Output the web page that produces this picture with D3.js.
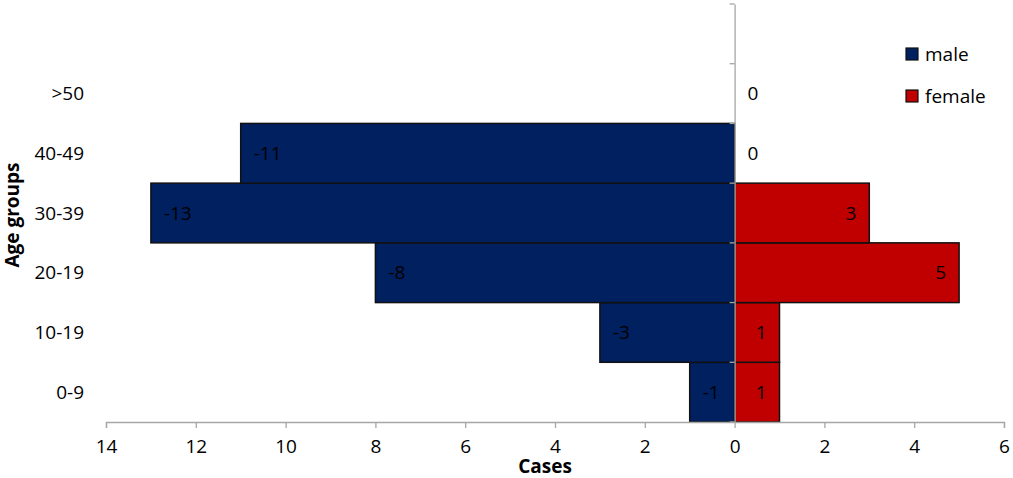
<!DOCTYPE html>
<html>
<head>
<meta charset="utf-8">
<script src="https://cdn.jsdelivr.net/npm/d3@7"></script>
<style>
  body { margin: 0; background: #fff; }
  svg text { font-family: "Open Sans", sans-serif; font-size: 19px; fill: #000; }
  .axis path, .axis line { stroke: #a6a6a6; stroke-width: 1.3; }
</style>
</head>
<body>
<div id="chart"></div>
<script>
// age groups from bottom to top, the top slot stays empty
const ageGroups = ['0-9', '10-19', '20-19', '30-39', '40-49', '>50'];
const maleCases = [-1, -3, -8, -13, -11, 0];
const femaleCases = [1, 1, 5, 3, 0, 0];
const xTicks = [-14, -12, -10, -8, -6, -4, -2, 0, 2, 4, 6];

const W = 1013, H = 478;
const margin = {t: 4, r: 9, b: 56, l: 106};

const svg = d3.select('#chart').append('svg')
  .attr('width', W)
  .attr('height', H);

const x = d3.scaleLinear().domain([-14, 6]).range([margin.l, W - margin.r]);
const y = d3.scaleBand()
  .domain(ageGroups.concat(['']))
  .range([H - margin.b, margin.t])
  .padding(0);

const rows = ageGroups.map((g, i) => ({group: g, male: maleCases[i], female: femaleCases[i]}));

// bars
const bars = svg.append('g');
bars.selectAll('rect.male')
  .data(rows.filter(d => d.male !== 0))
  .join('rect')
  .attr('class', 'male')
  .attr('x', d => x(d.male))
  .attr('y', d => y(d.group))
  .attr('width', d => x(0) - x(d.male))
  .attr('height', y.bandwidth())
  .attr('fill', '#002060')
  .attr('stroke', '#111')
  .attr('stroke-width', 1.5);

bars.selectAll('rect.female')
  .data(rows.filter(d => d.female !== 0))
  .join('rect')
  .attr('class', 'female')
  .attr('x', x(0))
  .attr('y', d => y(d.group))
  .attr('width', d => x(d.female) - x(0))
  .attr('height', y.bandwidth())
  .attr('fill', '#c00000')
  .attr('stroke', '#111')
  .attr('stroke-width', 1.5);

// axes
const xAxis = svg.append('g')
  .attr('class', 'axis')
  .attr('transform', `translate(0, ${H - margin.b})`)
  .call(d3.axisBottom(x).tickValues(xTicks).tickSize(6).tickSizeOuter(6).tickFormat(d => Math.abs(d)));
xAxis.selectAll('text').attr('dy', 22).style('font-size', '19px');

const yAxis = svg.append('g')
  .attr('class', 'axis')
  .attr('transform', `translate(${x(0)}, 0)`)
  .call(d3.axisLeft(y).tickSize(0).tickSizeOuter(0).tickFormat(''));
// ticks on the category boundaries
yAxis.selectAll('line.bound')
  .data(d3.range(y.domain().length + 1))
  .join('line')
  .attr('class', 'bound')
  .attr('x1', -5).attr('x2', 0)
  .attr('y1', i => y.range()[0] - i * y.step())
  .attr('y2', i => y.range()[0] - i * y.step());

// category labels
svg.append('g').selectAll('text')
  .data(ageGroups)
  .join('text')
  .attr('x', 84)
  .attr('y', d => y(d) + y.bandwidth() / 2)
  .attr('dy', '0.35em')
  .attr('text-anchor', 'end')
  .text(d => d);

// value labels
const labels = svg.append('g');
labels.selectAll('text.ml')
  .data(rows.filter(d => d.male !== 0))
  .join('text')
  .attr('class', 'ml')
  .attr('x', d => x(d.male) + 13)
  .attr('y', d => y(d.group) + y.bandwidth() / 2)
  .attr('dy', '0.35em')
  .text(d => d.male);

labels.selectAll('text.fl')
  .data(rows)
  .join('text')
  .attr('class', 'fl')
  .attr('x', d => d.female === 0 ? x(0) + 13 : x(d.female) - 13)
  .attr('y', d => y(d.group) + y.bandwidth() / 2)
  .attr('dy', '0.35em')
  .attr('text-anchor', d => d.female === 0 ? 'start' : 'end')
  .text(d => d.female);

// axis titles
svg.append('text')
  .attr('x', (x(-14) + x(6)) / 2 - 10)
  .attr('y', 473)
  .attr('text-anchor', 'middle')
  .style('font-weight', 'bold')
  .text('Cases');

svg.append('text')
  .attr('transform', `translate(19, ${(y.range()[0] + y.range()[1]) / 2 + 2}) rotate(-90)`)
  .attr('text-anchor', 'middle')
  .style('font-weight', 'bold')
  .text('Age groups');

// legend
const legendItems = [{name: 'male', color: '#002060'}, {name: 'female', color: '#c00000'}];
const legend = svg.append('g').attr('transform', 'translate(906, 48)');
legendItems.forEach(function(d, i) {
  const item = legend.append('g').attr('transform', `translate(0, ${i * 42})`);
  item.append('rect')
    .attr('width', 12).attr('height', 12)
    .attr('fill', d.color)
    .attr('stroke', '#111')
    .attr('stroke-width', 1.2);
  item.append('text')
    .attr('x', 19)
    .attr('y', 6)
    .attr('dy', '0.35em')
    .text(d.name);
});
</script>
</body>
</html>
